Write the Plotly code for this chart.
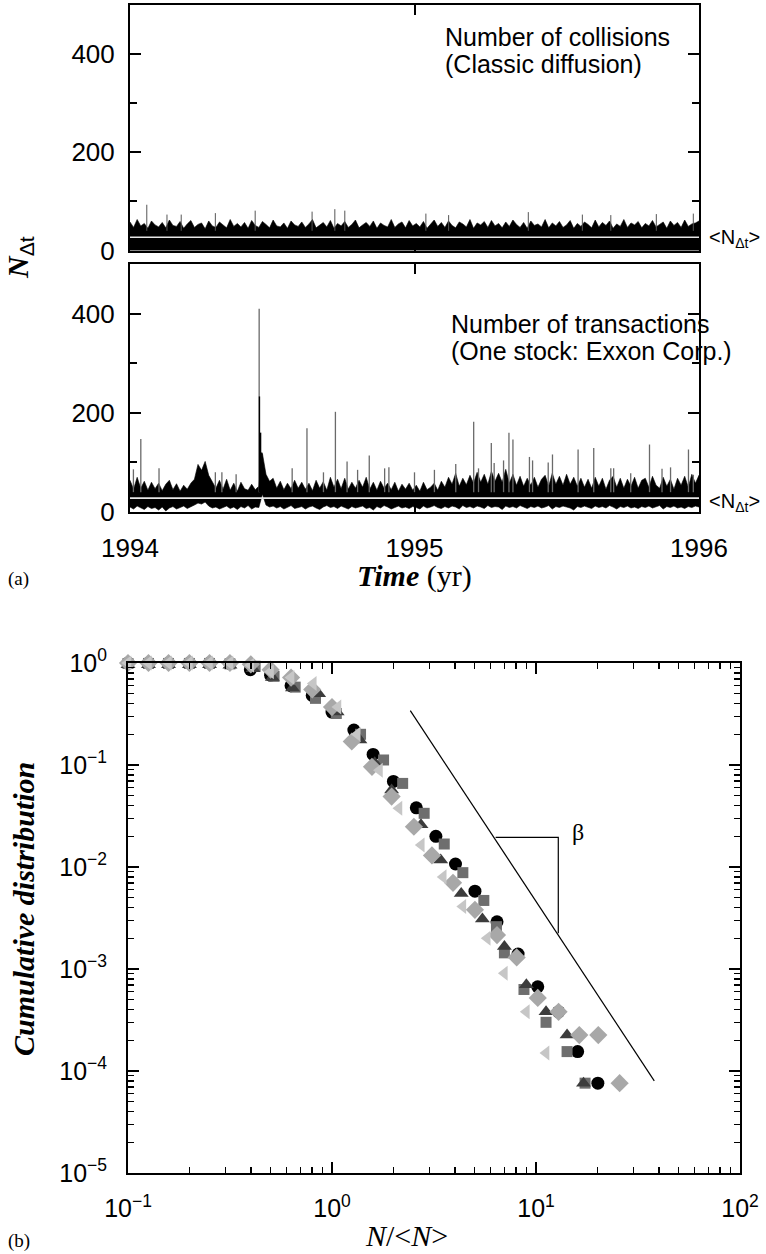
import numpy as np
import plotly.graph_objects as go

W, H = 766, 1254

# ------------------------------------------------------------------ data (a)
year_start, year_end = 1994.0, 1996.0
collisions_mean = 27
transactions_mean = 28

# upper envelope of the dense band (read every ~0.0126 yr)
collisions_upper = [58, 47, 63, 50, 55, 45, 60, 52, 48, 57, 46, 62, 51, 49, 59, 45, 54, 61, 47, 53,
                    56, 44, 60, 50, 47, 58, 52, 46, 63, 49, 55, 48, 57, 45, 61, 51, 47, 59, 53, 46,
                    62, 50, 48, 56, 45, 60, 52, 49, 58, 47, 54, 63, 46, 51, 57, 48, 61, 45, 55, 50,
                    59, 47, 53, 62, 46, 52, 57, 49, 60, 45, 56, 51, 48, 63, 47, 54, 58, 46, 61, 50,
                    55, 48, 59, 45, 53, 62, 49, 57, 47, 60, 51, 46, 58, 54, 48, 63, 45, 56, 52, 59,
                    47, 61, 50, 55, 46, 58, 49, 62, 53, 47, 57, 45, 60, 51, 54, 48, 63, 46, 56, 50,
                    59, 47, 52, 61, 45, 55, 49, 58, 53, 46, 62, 48, 57, 51, 60, 45, 54, 49, 63, 47,
                    56, 52, 59, 46, 55, 50, 61, 48, 53, 58, 45, 60, 51, 57, 47, 62, 49, 54, 56, 60]

transactions_upper = [64, 46, 70, 48, 62, 44, 60, 47,
                      58, 43, 56, 64, 45, 57, 42, 54, 46,
                      58, 66, 96, 84, 102, 74, 60, 48, 64,
                      46, 66, 44, 58, 42, 60, 47, 44, 56, 45,
                      52, 118, 76, 62,
                      68, 48, 62, 45, 58, 47, 64, 48,
                      60, 46, 58, 43, 64, 48, 61, 44, 70, 50, 66, 47, 68, 46, 60, 48,
                      64, 50, 70, 46, 60, 44, 62, 48, 58, 45, 60, 42, 56, 46, 58, 44,
                      54, 42, 60, 45, 50, 58, 44, 62,
                      50, 70, 56, 78, 52, 68, 55, 74, 58, 80, 60, 76, 56, 82, 62, 78, 60, 86, 58, 76, 54, 72, 52, 68,
                      54, 70, 50, 66, 74, 52, 78, 56, 72, 54, 76, 56, 70, 52, 68, 50,
                      66, 48, 70, 52, 68, 46, 64, 72, 50, 68, 48, 66, 52, 70, 48, 64,
                      68, 50, 72, 54, 48, 70, 52, 66, 46, 68, 54, 72, 50, 76, 58, 74]

transactions_lower = [10, 6, 12, 8, 5, 11, 7, 9,
                      4, 10, 2, 8, 11, 6, 9, 12, 7,
                      10, 14, 18, 16, 20, 12, 8, 10, 6,
                      9, 12, 7, 10, 5, 11, 8, 13, 6, 10,
                      9, 36, 14, 10,
                      12, 8, 11, 6, 10, 13, 7, 9,
                      11, 6, 10, 12, 8, 5, 10, 13, 9, 11, 7, 12, 9, 6, 11, 8,
                      10, 12, 7, 9, 4, 11, 8, 13, 10, 6, 9, 12, 8, 10, 7, 11,
                      9, 6, 12, 8, 10, 13, 9, 7,
                      11, 8, 12, 10, 6, 13, 9, 11, 8, 12, 10, 7, 13, 9, 11, 10, 5, 12, 9, 11, 8, 13, 10, 7,
                      11, 9, 12, 8, 10, 13, 6, 11, 9, 12, 10, 8, 4, 11, 9, 12,
                      10, 7, 12, 9, 11, 8, 13, 10, 6, 11, 9, 12, 8, 10, 7, 11,
                      9, 12, 8, 10, 13, 6, 11, 9, 12, 8, 10, 7, 11, 9, 12, 10]

# isolated spikes (time in yr, height)
collision_spike_t = [1994.059, 1994.13, 1994.18, 1994.30, 1994.44, 1994.64, 1994.72, 1994.755,
                     1995.04, 1995.12, 1995.40, 1995.59, 1995.69, 1995.85, 1995.98]
collision_spike_h = [93, 73, 73, 76, 81, 79, 84, 81, 75, 72, 78, 73, 72, 74, 75]

trans_spike_t = [1994.012, 1994.038, 1994.102, 1994.30, 1994.323, 1994.373, 1994.454, 1994.57,
                 1994.622, 1994.68, 1994.722, 1994.763, 1994.80, 1994.841, 1994.895, 1994.91,
                 1995.0, 1995.07, 1995.145, 1995.208, 1995.225, 1995.27, 1995.28, 1995.313,
                 1995.332, 1995.346, 1995.404, 1995.415, 1995.47, 1995.485, 1995.575, 1995.63,
                 1995.69, 1995.70, 1995.76, 1995.826, 1995.87, 1995.90, 1995.963, 1995.98]
trans_spike_h = [86, 147, 88, 80, 80, 76, 410, 88,
                 169, 80, 202, 102, 85, 114, 88, 90,
                 80, 85, 97, 182, 88, 139, 99, 104,
                 160, 146, 111, 104, 100, 116, 126, 129,
                 88, 88, 78, 136, 87, 90, 126, 75]
trans_core_t = [1994.455, 1994.459, 1994.463, 1994.468, 1994.473]
trans_core_h = [233, 160, 120, 95, 80]

year_ticks = [1994, 1995, 1996]

# ------------------------------------------------------------------ data (b)
circ_x = [0.1, 0.126, 0.158, 0.2, 0.251, 0.316, 0.398, 0.5, 0.63, 0.8, 1.0, 1.28, 1.59, 2.0,
          2.59, 3.23, 4.03, 5.02, 6.44, 8.17, 10.2, 12.9, 16.0, 20.1]
circ_y = [1, 1, 1, 1, 1, 0.99, 0.86, 0.76, 0.6, 0.48, 0.33, 0.22, 0.127, 0.069,
          0.038, 0.02, 0.0107, 0.0058, 0.0029, 0.0014, 6.7e-4, 3.8e-4, 1.55e-4, 7.6e-5]

sq_x = [0.1, 0.126, 0.158, 0.2, 0.251, 0.316, 0.42, 0.52, 0.66, 0.83, 1.05, 1.38, 1.79, 2.22,
        2.83, 3.55, 4.38, 5.55, 6.4, 7.0, 8.73, 11.2, 14.2, 17.4]
sq_y = [0.99, 0.99, 0.99, 0.99, 0.99, 0.98, 0.93, 0.74, 0.58, 0.45, 0.32, 0.2, 0.112, 0.066,
        0.0336, 0.0168, 0.0088, 0.0047, 0.0026, 1.44e-3, 6.3e-4, 3.0e-4, 1.55e-4, 7.6e-5]

tri_x = [0.1, 0.126, 0.158, 0.2, 0.251, 0.316, 0.41, 0.51, 0.64, 0.86, 1.06, 1.37, 1.62, 1.96,
         2.73, 3.41, 4.3, 5.46, 7.0, 8.97, 11.2, 14.2, 17.1]
tri_y = [0.96, 0.96, 0.96, 0.96, 0.96, 0.95, 0.88, 0.72, 0.57, 0.5, 0.33, 0.176, 0.105, 0.057,
         0.026, 0.0117, 0.0055, 0.0031, 1.66e-3, 7.0e-4, 3.8e-4, 2.25e-4, 7.6e-5]

dia_x = [0.1, 0.126, 0.158, 0.2, 0.251, 0.316, 0.4, 0.5, 0.63, 0.8, 1.0, 1.25, 1.57, 1.96,
         2.52, 3.09, 3.92, 5.02, 6.44, 8.04, 10.2, 12.9, 16.3, 20.2, 25.7]
dia_y = [1, 1, 1, 1, 1, 1, 0.97, 0.86, 0.72, 0.55, 0.37, 0.17, 0.096, 0.049,
         0.0248, 0.013, 0.007, 0.0038, 0.00215, 0.0013, 5.2e-4, 3.8e-4, 2.25e-4, 2.25e-4, 7.6e-5]

ltri_x = [0.1, 0.126, 0.158, 0.2, 0.251, 0.316, 0.4, 0.5, 0.63, 0.81, 1.07, 1.33, 1.71, 2.13,
          2.74, 3.51, 4.38, 5.77, 7.0, 8.97, 11.2]
ltri_y = [1, 1, 1, 1, 1, 1, 0.95, 0.82, 0.72, 0.63, 0.37, 0.2, 0.089, 0.0376,
          0.0164, 0.008, 0.0041, 0.002, 9.1e-4, 3.8e-4, 1.5e-4]

slope_line_x = [2.42, 38.0]
slope_line_y = [0.341, 8.0e-5]
bracket_x = [6.34, 12.86, 12.86]
bracket_y = [0.0195, 0.0195, 0.00224]
beta_pos = (16.0, 0.0222)

log_x_ticks = [0.1, 1, 10, 100]
log_x_text = ["10<sup>\u22121</sup>", "10<sup>0</sup>", "10<sup>1</sup>", "10<sup>2</sup>"]
log_y_ticks = [1e-5, 1e-4, 1e-3, 1e-2, 1e-1, 1]
log_y_text = ["10<sup>\u22125</sup>", "10<sup>\u22124</sup>", "10<sup>\u22123</sup>",
              "10<sup>\u22122</sup>", "10<sup>\u22121</sup>", "10<sup>0</sup>"]
minor_mult = [2, 3, 4, 5, 6, 7, 8, 9]

# ------------------------------------------------------------------ helpers
SANS = "Liberation Sans Narrow, Liberation Sans, Arial, sans-serif"
SERIF = "Liberation Serif, Times New Roman, serif"


def px_x(x):
    return x / W


def px_y(y):
    return 1 - y / H


def spikes(ts, hs, base):
    xs, ys = [], []
    for t, h in zip(ts, hs):
        xs += [t, t, None]
        ys += [base, h, None]
    return xs, ys


minor_x = [d * m for d in log_x_ticks[:-1] for m in minor_mult]
minor_y = [d * m for d in log_y_ticks[:-1] for m in minor_mult]

fig = go.Figure()

band_t = list(np.linspace(year_start, year_end, len(collisions_upper)))
band_t2 = list(np.linspace(year_start, year_end, len(transactions_upper)))

# --- top panel (collisions)
fig.add_trace(go.Scatter(x=band_t + [year_end, year_start], y=collisions_upper + [0, 0],
                         fill="toself", fillcolor="black", mode="lines",
                         line=dict(color="black", width=0.6), xaxis="x", yaxis="y",
                         hoverinfo="skip", showlegend=False))
sx, sy = spikes(collision_spike_t, collision_spike_h, 40)
fig.add_trace(go.Scatter(x=sx, y=sy, mode="lines", line=dict(color="#555", width=1),
                         xaxis="x", yaxis="y", showlegend=False, hoverinfo="skip"))
fig.add_trace(go.Scatter(x=[year_start, year_end], y=[collisions_mean] * 2, mode="lines",
                         line=dict(color="#e6e6e6", width=1.6), xaxis="x", yaxis="y",
                         showlegend=False, hoverinfo="skip"))

# --- bottom panel (transactions)
fig.add_trace(go.Scatter(x=band_t2 + band_t2[::-1], y=transactions_upper + transactions_lower[::-1],
                         fill="toself", fillcolor="black", mode="lines",
                         line=dict(color="black", width=0.6), xaxis="x2", yaxis="y2",
                         hoverinfo="skip", showlegend=False))
sx, sy = spikes(trans_spike_t, trans_spike_h, 40)
fig.add_trace(go.Scatter(x=sx, y=sy, mode="lines", line=dict(color="#6a6a6a", width=1.3),
                         xaxis="x2", yaxis="y2", showlegend=False, hoverinfo="skip"))
sx, sy = spikes(trans_core_t, trans_core_h, 40)
fig.add_trace(go.Scatter(x=sx, y=sy, mode="lines", line=dict(color="black", width=1.4),
                         xaxis="x2", yaxis="y2", showlegend=False, hoverinfo="skip"))
fig.add_trace(go.Scatter(x=[year_start, year_end], y=[transactions_mean] * 2, mode="lines",
                         line=dict(color="#e6e6e6", width=1.6), xaxis="x2", yaxis="y2",
                         showlegend=False, hoverinfo="skip"))

# --- panel (b)
series = [
    (circ_x, circ_y, "circle", "black", 13),
    (sq_x, sq_y, "square", "#6e6e6e", 11),
    (tri_x, tri_y, "triangle-up", "#3c3c3c", 13),
    (dia_x, dia_y, "diamond", "#a8a8a8", 14),
    (ltri_x, ltri_y, "triangle-left", "#c6c6c6", 13),
]
for xs, ys, sym, col, size in series:
    fig.add_trace(go.Scatter(x=xs, y=ys, mode="markers", xaxis="x3", yaxis="y3",
                             marker=dict(symbol=sym, color=col, size=size, line=dict(width=0)),
                             cliponaxis=False, showlegend=False))
fig.add_trace(go.Scatter(x=slope_line_x, y=slope_line_y, mode="lines", xaxis="x3", yaxis="y3",
                         line=dict(color="black", width=1.2), showlegend=False))
fig.add_trace(go.Scatter(x=bracket_x, y=bracket_y, mode="lines", xaxis="x3", yaxis="y3",
                         line=dict(color="black", width=1.2), showlegend=False))

# ------------------------------------------------------------------ axes
xa_dom = [px_x(130), px_x(699)]
common_time_x = dict(range=[year_start, year_end], domain=xa_dom, showline=True, linewidth=2,
                     linecolor="black", mirror="allticks", ticks="inside", ticklen=10,
                     tickwidth=2, tickcolor="black", tickvals=year_ticks, showgrid=False,
                     zeroline=False, automargin=False)
common_count_y = dict(range=[0, 500], showline=True, linewidth=2, linecolor="black",
                      mirror="allticks", ticks="inside", ticklen=11, tickwidth=2,
                      tickcolor="black", tickvals=[0, 200, 400], showgrid=False, zeroline=False,
                      automargin=False,
                      tickfont=dict(family=SANS, size=26, color="black"), ticklabelstandoff=8,
                      minor=dict(tickvals=[100, 300], ticks="inside", ticklen=7, tickwidth=2,
                                 tickcolor="black", showgrid=False))

fig.update_layout(
    template="none",
    width=W, height=H, margin=dict(l=0, r=0, t=0, b=0, autoexpand=False),
    paper_bgcolor="white", plot_bgcolor="white",
    xaxis=dict(common_time_x, anchor="y", showticklabels=False),
    yaxis=dict(common_count_y, domain=[px_y(250.5), px_y(4.5)], anchor="x"),
    xaxis2=dict(common_time_x, anchor="y2", showticklabels=True,
                tickfont=dict(family=SANS, size=26, color="black"), ticklabelstandoff=12),
    yaxis2=dict(common_count_y, domain=[px_y(512), px_y(264)], anchor="x2"),
    xaxis3=dict(type="log", range=[-1, 2], domain=[px_x(128), px_x(740)], anchor="y3",
                showline=True, linewidth=2, linecolor="black", mirror="allticks",
                ticks="inside", ticklen=11, tickwidth=2, tickcolor="black", automargin=False,
                tickvals=log_x_ticks, ticktext=log_x_text, showgrid=False, zeroline=False,
                tickfont=dict(family=SANS, size=25, color="black"), ticklabelstandoff=12,
                minor=dict(tickvals=minor_x, ticks="inside", ticklen=6, tickwidth=1.5,
                           tickcolor="black", showgrid=False)),
    yaxis3=dict(type="log", range=[-5, 0], domain=[px_y(1173), px_y(663)], anchor="x3",
                showline=True, linewidth=2, linecolor="black", mirror="allticks",
                ticks="inside", ticklen=11, tickwidth=2, tickcolor="black", automargin=False,
                tickvals=log_y_ticks, ticktext=log_y_text, showgrid=False, zeroline=False,
                tickfont=dict(family=SANS, size=25, color="black"), ticklabelstandoff=14,
                minor=dict(tickvals=minor_y, ticks="inside", ticklen=6, tickwidth=1.5,
                           tickcolor="black", showgrid=False)),
)

# ------------------------------------------------------------------ text
ann = []


def add(text, x, y, size, family=SANS, xanchor="left", yanchor="middle", angle=0):
    ann.append(dict(text=text, x=x, y=y, xref="paper", yref="paper", showarrow=False,
                    xanchor=xanchor, yanchor=yanchor, textangle=angle,
                    font=dict(family=family, size=size, color="black")))


add("Number of collisions", px_x(443), px_y(37), 25)
add("(Classic diffusion)", px_x(443), px_y(64), 25)
add("Number of transactions", px_x(449), px_y(324), 25)
add("(One stock: Exxon Corp.)", px_x(449), px_y(351), 25)
add("&lt;N<sub>\u0394t</sub>&gt;", px_x(707), px_y(238), 20)
add("&lt;N<sub>\u0394t</sub>&gt;", px_x(707), px_y(502), 20)
add("<b><i>N</i></b><sub><span style='font-family:Liberation Sans'>\u0394t</span></sub>",
    px_x(20), px_y(258), 30, family=SERIF, xanchor="center", angle=-90)
add("<b><i>Time</i></b> (yr)", px_x(414), px_y(576), 30, family=SERIF, xanchor="center")
add("(a)", px_x(6), px_y(579), 19, family=SERIF)
add("<b><i>Cumulative distribution</i></b>", px_x(24), px_y(909), 30, family=SERIF,
    xanchor="center", angle=-90)
add("<i>N</i>/&lt;<i>N</i>&gt;", px_x(406), px_y(1254), 30, family=SERIF, xanchor="center",
    yanchor="bottom")
add("(b)", px_x(6), px_y(1241), 19, family=SERIF)

fig.update_layout(annotations=ann)
fig.add_annotation(text="\u03b2", x=np.log10(beta_pos[0]), y=np.log10(beta_pos[1]),
                   xref="x3", yref="y3", showarrow=False, xanchor="center",
                   font=dict(family=SERIF, size=24, color="black"))

fig.write_html("out.html", config={"displayModeBar": False, "staticPlot": True},
               post_script="document.body.style.margin='0';document.body.style.overflow='hidden';")
